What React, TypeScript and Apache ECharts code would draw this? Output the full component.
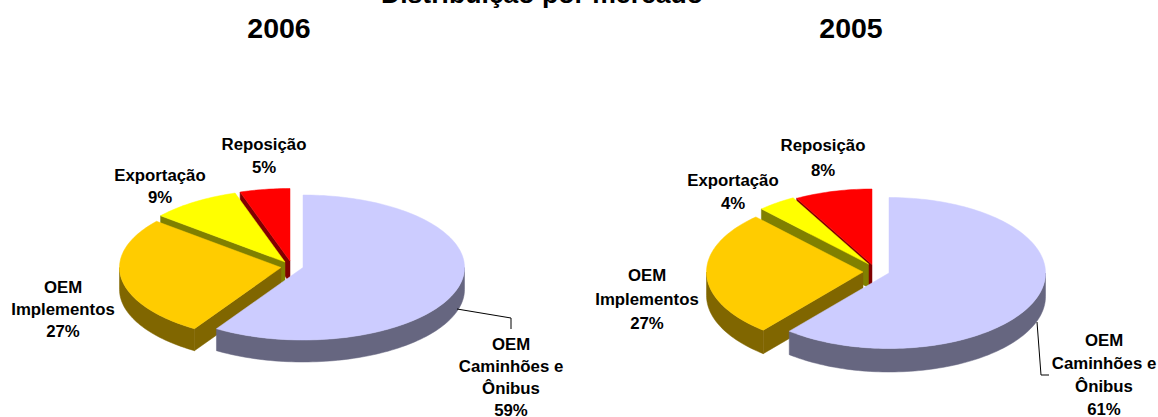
import React, { useEffect, useRef } from "react";
import * as echarts from "echarts";

const chartTitle = "Distribuição por mercado";
const years = ["2006", "2005"];
const categories = ["OEM\nCaminhões e\nÔnibus", "OEM\nImplementos", "Exportação", "Reposição"];
const values2006 = [59, 27, 9, 5];
const values2005 = [61, 27, 4, 8];
const topColors = ["#CCCCFF", "#FFCC00", "#FFFF00", "#FF0000"];
const wallColors = ["#666680", "#806600", "#808000", "#800000"];

const FONT = '"Liberation Sans", Arial, sans-serif';

const layouts = [
  {
    values: values2006,
    rx: 161.5,
    ry: 72.5,
    depth: 22,
    centers: [[303, 267.5], [281, 267.5], [285, 262], [290, 261]],
    labelX: [511, 63, 160, 264],
    labelY: [345, 287, 175, 144],
    labelLH: [21.7, 22, 22, 23],
    leader: [[457, 309], [511, 318], [511, 329]],
    yearX: 279,
  },
  {
    values: values2005,
    rx: 156.5,
    ry: 75.5,
    depth: 23.5,
    centers: [[889, 273], [863, 272], [868.5, 264], [872, 264.5]],
    labelX: [1104, 647, 733, 823],
    labelY: [340, 275, 180, 145],
    labelLH: [23, 24, 23, 25],
    leader: [[1037, 322], [1041, 375], [1049, 375]],
    yearX: 851,
  },
];

function arcPts(cx: number, cy: number, rx: number, ry: number, a0: number, a1: number) {
  const n = Math.max(2, Math.ceil((a1 - a0) / 1.5));
  const pts: number[][] = [];
  for (let i = 0; i <= n; i++) {
    const a = ((a0 + ((a1 - a0) * i) / n) * Math.PI) / 180;
    pts.push([cx + rx * Math.sin(a), cy - ry * Math.cos(a)]);
  }
  return pts;
}

function pieSeries(l: (typeof layouts)[number]) {
  const total = l.values.reduce((s, v) => s + v, 0);
  let acc = 0;
  const rows = l.values.map((v, i) => {
    const row = [v, acc, i];
    acc += v;
    return row;
  });
  return {
    type: "custom",
    coordinateSystem: "none",
    silent: true,
    animation: false,
    clip: false,
    data: rows.slice().reverse(),
    renderItem: (_p: any, api: any) => {
      const v = api.value(0);
      const start = (api.value(1) / total) * 360;
      const end = start + (v / total) * 360;
      const i = api.value(2);
      const [cx, cy] = l.centers[i];
      const { rx, ry, depth } = l;
      const children: any[] = [];
      const wall = { fill: wallColors[i], stroke: wallColors[i], lineWidth: 0.5 };
      if (start > 180 && start < 360) {
        const rim = arcPts(cx, cy, rx, ry, start, start + 0.01)[0];
        children.push({
          type: "polygon",
          shape: { points: [[cx, cy], rim, [rim[0], rim[1] + depth], [cx, cy + depth]] },
          style: wall,
        });
      }
      const w0 = Math.max(start, 90);
      const w1 = Math.min(end, 270);
      if (w1 > w0) {
        const top = arcPts(cx, cy, rx, ry, w0, w1);
        const bottom = top.map((p) => [p[0], p[1] + depth]).reverse();
        children.push({
          type: "polygon",
          shape: { points: [...top, ...bottom] },
          style: wall,
        });
      }
      children.push({
        type: "polygon",
        shape: { points: [[cx, cy], ...arcPts(cx, cy, rx, ry, start, end)] },
        style: { fill: topColors[i], stroke: topColors[i], lineWidth: 0.5 },
      });
      return { type: "group", children };
    },
  };
}

function labelElements(l: (typeof layouts)[number]) {
  const els: any[] = categories.map((name, i) => ({
    type: "text",
    z: 10,
    x: l.labelX[i],
    y: l.labelY[i] - l.labelLH[i] / 2,
    style: {
      text: `${name}\n${l.values[i]}%`,
      fill: "#000000",
      font: `bold 16.8px ${FONT}`,
      textAlign: "center",
      textVerticalAlign: "top",
      lineHeight: l.labelLH[i],
    },
  }));
  els.push({
    type: "polyline",
    z: 9,
    shape: { points: l.leader },
    style: { stroke: "#000000", lineWidth: 1, fill: "none" },
  });
  return els;
}

export default function App() {
  const ref = useRef<HTMLDivElement>(null);
  useEffect(() => {
    const chart = echarts.init(ref.current!, null, { renderer: "svg" });
    chart.setOption({
      animation: false,
      backgroundColor: "#ffffff",
      series: layouts.map(pieSeries),
      graphic: {
        elements: [
          {
            type: "text",
            z: 10,
            x: 542,
            y: -6,
            style: {
              text: chartTitle,
              fill: "#000000",
              font: `bold 26.6px ${FONT}`,
              textAlign: "center",
              textVerticalAlign: "middle",
            },
          },
          ...layouts.map((l, i) => ({
            type: "text",
            z: 10,
            x: l.yearX,
            y: 28,
            style: {
              text: years[i],
              fill: "#000000",
              font: `bold 28.5px ${FONT}`,
              textAlign: "center",
              textVerticalAlign: "middle",
            },
          })),
          ...layouts.flatMap(labelElements),
        ],
      },
    });
    return () => chart.dispose();
  }, []);
  return <div ref={ref} style={{ position: "absolute", left: 0, top: 0, width: 1158, height: 417 }} />;
}
